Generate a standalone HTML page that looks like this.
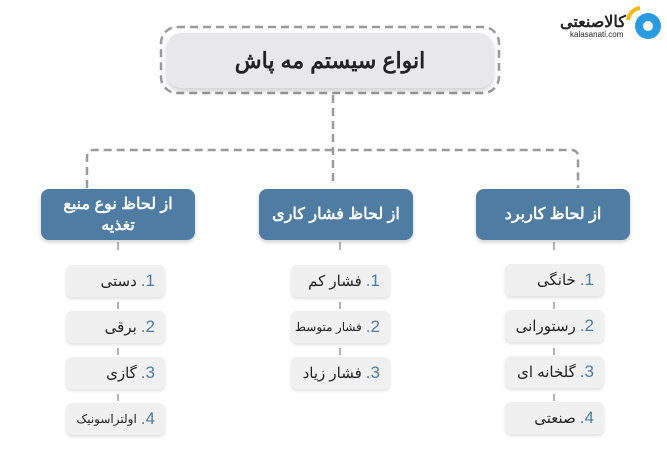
<!DOCTYPE html>
<html><head><meta charset="utf-8"><style>
body{margin:0;width:667px;height:464px;background:#fff;position:relative;overflow:hidden;font-family:"Liberation Sans","Noto Sans CJK SC",sans-serif;}
.abs{position:absolute}
.main{left:167px;top:33px;width:326px;height:55px;background:#e8e8ea;border-radius:14px;box-shadow:0 3px 6px rgba(0,0,0,.2);display:flex;align-items:center;justify-content:center;font-weight:bold;font-size:22px;color:#222;direction:rtl}
.cat{width:154px;height:51px;background:#4f7ca3;border-radius:8px;color:#fff;font-weight:bold;font-size:16px;display:flex;align-items:center;justify-content:center;text-align:center;direction:rtl;box-shadow:0 2px 4px rgba(0,0,0,.2);line-height:21px}
.it{width:99px;height:32px;background:#f0f0f0;border-radius:6px;box-shadow:0 2px 3px rgba(0,0,0,.12);direction:rtl;font-size:15px;color:#222;display:flex;align-items:center;padding-right:10px;box-sizing:border-box;white-space:nowrap}
.it b{color:#4f7ca3;font-weight:normal;font-size:17px;margin-left:4px}
</style></head><body>
<svg class="abs" style="left:0;top:0" width="667" height="464">
<rect x="161" y="27" width="338" height="66" rx="16" fill="none" stroke="#9a9a9a" stroke-width="2.5" stroke-dasharray="8,5"/>
<g stroke="#9a9a9a" stroke-width="2.5" fill="none" stroke-dasharray="8,5">
<path d="M333 95 V186"/>
<path d="M87 188 V157 Q87 150 94 150 H571 Q578 150 578 157 V188"/>
</g>
<g stroke="#999" stroke-width="1.5">
<path d="M118 242 V250 M118 302 V309 M118 348 V355 M118 394 V401"/>
<path d="M340 242 V250 M340 302 V309 M340 348 V355"/>
<path d="M554 242 V250 M554 302 V309 M554 348 V355 M554 394 V401"/>
</g>
<circle cx="648" cy="26" r="13" fill="#2a9be0"/>
<circle cx="648" cy="26" r="5" fill="#fff"/>
<path d="M628 20 A14 14 0 0 1 640 8" stroke="#f5b81b" stroke-width="4" fill="none"/>
</svg>
<div class="abs" style="left:560px;top:12px;font-weight:bold;font-size:16px;color:#222">کالاصنعتی</div>
<div class="abs" style="left:570px;top:30px;font-size:8px;color:#222">kalasanati.com</div>
<div class="abs main">انواع سیستم مه پاش</div>
<div class="abs cat" style="left:41px;top:189px">از لحاظ نوع منبع<br>تغذیه</div>
<div class="abs cat" style="left:259px;top:189px">از لحاظ فشار کاری</div>
<div class="abs cat" style="left:476px;top:189px">از لحاظ کاربرد</div>
<div class="abs it" style="left:66px;top:265px"><b>1.</b>دستی</div>
<div class="abs it" style="left:66px;top:311px"><b>2.</b>برقی</div>
<div class="abs it" style="left:66px;top:357px"><b>3.</b>گازی</div>
<div class="abs it" style="left:66px;top:403px;font-size:12px"><b>4.</b>اولتراسونیک</div>
<div class="abs it" style="left:291px;top:265px"><b>1.</b>فشار کم</div>
<div class="abs it" style="left:291px;top:311px;font-size:12px"><b>2.</b>فشار متوسط</div>
<div class="abs it" style="left:291px;top:357px"><b>3.</b>فشار زیاد</div>
<div class="abs it" style="left:505px;top:264px"><b>1.</b>خانگی</div>
<div class="abs it" style="left:505px;top:310px"><b>2.</b>رستورانی</div>
<div class="abs it" style="left:505px;top:356px"><b>3.</b>گلخانه ای</div>
<div class="abs it" style="left:505px;top:402px"><b>4.</b>صنعتی</div>
</body></html>
